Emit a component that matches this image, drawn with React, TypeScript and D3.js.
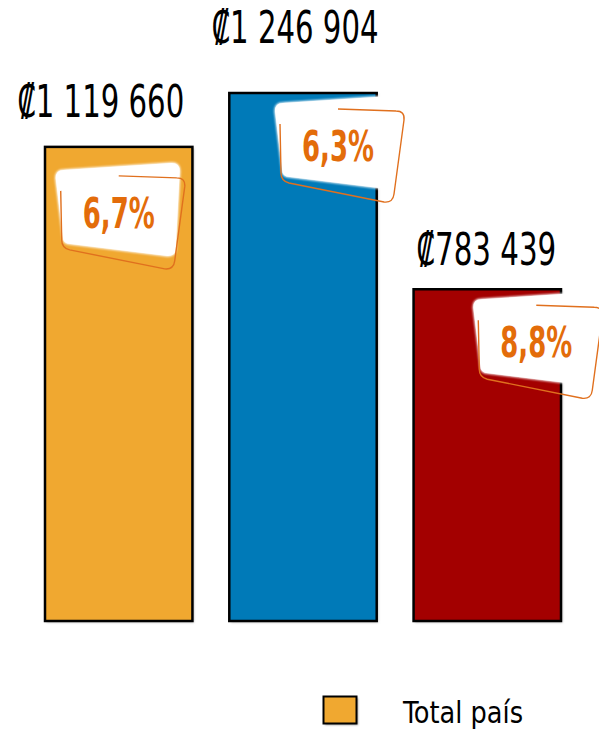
import React from "react";
import * as d3 from "d3";

const categories = ["Total país", "Serie 2", "Serie 3"];
const values = [1119660, 1246904, 783439];
const valueLabels = ["₡1 119 660", "₡1 246 904", "₡783 439"];
const percentLabels = ["6,7%", "6,3%", "8,8%"];
const colors = ["#F0A830", "#007AB8", "#A30000"];
const legendItems = ["Total país"];

// label placement tweaks (offsets relative to bar center/top)
const labelDx = [-18, -8, -1];
const labelDy = [-30, -50, -24];
const badgeDx = [0, 35, 49];
const badgeDy = [66, 53, 53];

const W = 599;
const H = 734;

const whitePath = (() => {
  const p = d3.path();
  const r = 8;
  p.moveTo(-63 + r, -43);
  p.lineTo(61 - r, -50);
  p.quadraticCurveTo(61, -50, 61, -50 + r);
  p.lineTo(57, 43 - r);
  p.quadraticCurveTo(57, 43, 57 - r, 43);
  p.lineTo(-56 + r, 31);
  p.quadraticCurveTo(-56, 31, -56, 31 - r);
  p.lineTo(-63, -43 + r);
  p.quadraticCurveTo(-63, -43, -63 + r, -43);
  p.closePath();
  return p.toString();
})();

const outlinePath = (() => {
  const p = d3.path();
  p.moveTo(0, -37);
  p.lineTo(58, -35);
  p.quadraticCurveTo(67, -35, 66, -26);
  p.lineTo(56, 48);
  p.quadraticCurveTo(55, 57, 46, 56);
  p.lineTo(-49, 37);
  p.quadraticCurveTo(-57, 35, -57, 27);
  p.lineTo(-58, -22);
  return p.toString();
})();

export default function App() {
  const x = d3
    .scaleBand<string>()
    .domain(categories)
    .range([45, 561])
    .paddingInner(0.2)
    .paddingOuter(0);
  const y = d3.scaleLinear().domain([0, d3.max(values)!]).range([621, 93]);
  const font = "'DejaVu Sans Condensed', 'Liberation Sans Narrow', 'Noto Sans', sans-serif";

  return (
    <svg width={W} height={H} style={{ position: "absolute", left: 0, top: 0 }}>
      <defs>
        <filter id="soft" x="-20%" y="-20%" width="140%" height="140%">
          <feGaussianBlur stdDeviation="1" />
        </filter>
      </defs>
      <rect width={W} height={H} fill="#fff" />
      {categories.map((c, i) => {
        const bx = x(c)!;
        const bw = x.bandwidth();
        const by = y(values[i]);
        const bh = y(0) - by;
        const cx = bx + bw / 2;
        return (
          <g key={c}>
            <rect x={bx + 1.5} y={by + 1.5} width={bw} height={bh} fill="#bbb" filter="url(#soft)" />
            <rect x={bx} y={by} width={bw} height={bh} fill={colors[i]} stroke="#000" strokeWidth={2.5} />
            <text
              transform={`translate(${cx + labelDx[i]},${by + labelDy[i]}) scale(1,1.55)`}
              textAnchor="middle"
              fontFamily={font}
              fontSize={29}
              fill="#000"
              textLength={valueLabels[i].length > 8 ? 167 : 140}
              lengthAdjust="spacingAndGlyphs"
            >
              {valueLabels[i]}
            </text>
            <g transform={`translate(${cx + badgeDx[i]},${by + badgeDy[i]})`}>
              <path d={whitePath} fill="#fff" stroke="#fff" strokeWidth={1.5} filter="url(#soft)" />
              <path d={whitePath} fill="#fff" />
              <path d={outlinePath} fill="none" stroke="#E0701E" strokeWidth={1.4} />
              <text
                transform="translate(0,15) scale(1,1.45)"
                textAnchor="middle"
                fontFamily={font}
                fontWeight="bold"
                fontSize={29}
                fill="#E36C0A"
                textLength={72}
                lengthAdjust="spacingAndGlyphs"
              >
                {percentLabels[i]}
              </text>
            </g>
          </g>
        );
      })}
      {legendItems.map((l, i) => (
        <g key={l}>
          <rect x={325} y={698} width={33} height={27} fill="#999" filter="url(#soft)" />
          <rect x={323.5} y={696.5} width={33} height={27} fill={colors[i]} stroke="#000" strokeWidth={2} />
          <text
            transform="translate(403,723) scale(1,1.19)"
            fontFamily={font}
            fontSize={26}
            fill="#000"
            textLength={120}
            lengthAdjust="spacingAndGlyphs"
          >
            {l}
          </text>
        </g>
      ))}
    </svg>
  );
}
